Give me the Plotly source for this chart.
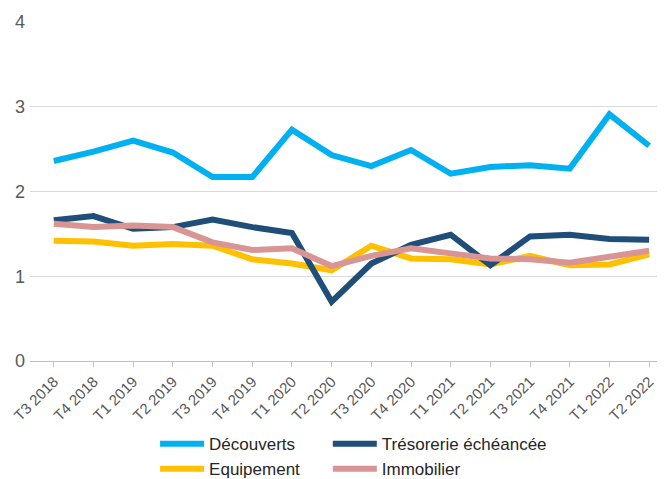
import plotly.graph_objects as go

# trimestres
quarters = ["T3 2018", "T4 2018", "T1 2019", "T2 2019", "T3 2019", "T4 2019",
            "T1 2020", "T2 2020", "T3 2020", "T4 2020", "T1 2021", "T2 2021",
            "T3 2021", "T4 2021", "T1 2022", "T2 2022"]

decouverts = [2.36, 2.47, 2.60, 2.46, 2.17, 2.17, 2.73, 2.43,
              2.30, 2.49, 2.21, 2.29, 2.31, 2.27, 2.91, 2.54]
tresorerie = [1.66, 1.71, 1.56, 1.58, 1.67, 1.58, 1.51, 0.70,
              1.15, 1.37, 1.49, 1.13, 1.47, 1.49, 1.44, 1.43]
equipement = [1.42, 1.41, 1.36, 1.38, 1.36, 1.20, 1.15, 1.07,
              1.36, 1.21, 1.20, 1.14, 1.24, 1.13, 1.14, 1.26]
immobilier = [1.62, 1.58, 1.60, 1.58, 1.40, 1.31, 1.33, 1.12,
              1.24, 1.33, 1.27, 1.21, 1.20, 1.16, 1.23, 1.30]

# (name, values, colour, legend column, rank) in drawing order
series = [
    ("Découverts", decouverts, "#00B0F0", "legend", 1),
    ("Equipement", equipement, "#FFC000", "legend", 2),
    ("Trésorerie échéancée", tresorerie, "#1F4E79", "legend2", 1),
    ("Immobilier", immobilier, "#D99594", "legend2", 2),
]

fig = go.Figure()
for name, vals, col, leg, rank in series:
    fig.add_trace(go.Scatter(x=quarters, y=vals, mode="lines", name=name,
                             line=dict(color=col, width=6),
                             legend=leg, legendrank=rank))

# two vertical legends side by side = 2 columns, like the original
leg_style = dict(orientation="v", yanchor="top", xanchor="left", y=-0.192,
                 font=dict(size=17, color="#262626"), itemwidth=44,
                 tracegroupgap=0, bgcolor="rgba(0,0,0,0)")

# page body has an 8px margin, so margins are shifted by that
fig.update_layout(
    width=665, height=479,
    margin=dict(l=22, r=8, t=14, b=126, autoexpand=False),
    plot_bgcolor="white", paper_bgcolor="white",
    font=dict(family="Liberation Sans, Arial, sans-serif", color="#595959"),
    showlegend=True,
    legend=dict(leg_style, x=0.197),
    legend2=dict(leg_style, x=0.469),
)
fig.update_xaxes(range=[-0.6, 15.4], tickangle=-45, tickfont=dict(size=15),
                 showgrid=False, showline=True, linecolor="#BFBFBF",
                 ticks="outside", ticklen=5, tickcolor="#BFBFBF",
                 automargin=False)
fig.update_yaxes(range=[0, 4], dtick=1, tickfont=dict(size=18),
                 gridcolor="#D9D9D9", gridwidth=1, zeroline=False,
                 showline=False, ticks="", automargin=False,
                 ticklabelstandoff=4)

fig.write_html("out.html")
